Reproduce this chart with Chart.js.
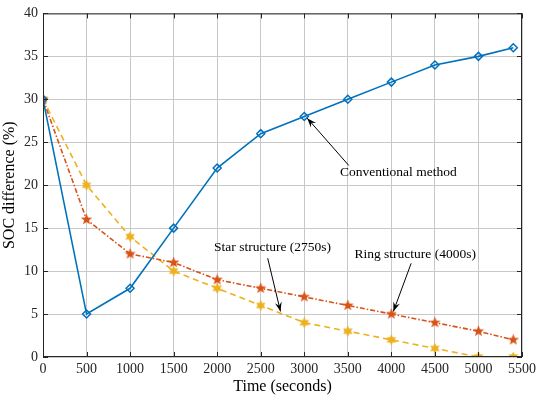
<!DOCTYPE html>
<html>
<head>
<meta charset="utf-8">
<script src="https://cdn.jsdelivr.net/npm/chart.js@4.4.0/dist/chart.umd.min.js"></script>
<style>
  html, body { margin: 0; padding: 0; background: #fff; }
  #wrap { width: 540px; height: 397px; }
</style>
</head>
<body>
<div id="wrap"><canvas id="soc"></canvas></div>
<script>
const times = [0, 500, 1000, 1500, 2000, 2500, 3000, 3500, 4000, 4500, 5000, 5400];
const conventional = [30, 5, 8, 15, 22, 26, 28, 30, 32, 34, 35, 36];
const ringStructure = [30, 16, 12, 11, 9, 8, 7, 6, 5, 4, 3, 2];
const starStructure = [30, 20, 14, 10, 8, 6, 4, 3, 2, 1, 0, 0];
const xTicks = [0, 500, 1000, 1500, 2000, 2500, 3000, 3500, 4000, 4500, 5000, 5500];
const yTicks = [0, 5, 10, 15, 20, 25, 30, 35, 40];

const FONT = '"Liberation Serif", "Times New Roman", serif';

function makeStar(points, color, size) {
    const c = document.createElement('canvas');
    c.width = size; c.height = size;
    const ctx = c.getContext('2d');
    const r = size / 2 - 0.5, ri = points === 5 ? r * 0.42 : r * 0.55;
    ctx.beginPath();
    for (let i = 0; i < points * 2; i++) {
        const a = -Math.PI / 2 + i * Math.PI / points;
        const rr = i % 2 === 0 ? r : ri;
        ctx.lineTo(size / 2 + rr * Math.cos(a), size / 2 + rr * Math.sin(a));
    }
    ctx.closePath();
    ctx.fillStyle = color;
    ctx.fill();
    return c;
}

const toPoints = (ys) => ys.map((y, i) => ({ x: times[i], y: y }));

// arrows and labels, placed in data units
const notes = [
    { text: 'Conventional method', tx: 4080, ty: 21.5, from: [3511, 22.3], to: [3034, 27.8] },
    { text: 'Star structure (2750s)', tx: 2636, ty: 12.7, from: [2580, 11.5], to: [2727, 5.3] },
    { text: 'Ring structure (4000s)', tx: 4273, ty: 11.9, from: [4227, 10.9], to: [4023, 5.3] }
];

const framePlugin = {
    id: 'frame',
    afterDatasetsDraw(chart) {
        const { ctx, chartArea: a, scales } = chart;
        ctx.save();
        ctx.strokeStyle = '#262626';
        ctx.lineWidth = 1;
        ctx.strokeRect(a.left + 0.5, a.top + 0.5, a.right - a.left - 1, a.bottom - a.top - 1);
        ctx.beginPath();
        xTicks.forEach(v => {
            const px = Math.round(scales.x.getPixelForValue(v)) + 0.5;
            ctx.moveTo(px, a.bottom); ctx.lineTo(px, a.bottom - 5);
            ctx.moveTo(px, a.top); ctx.lineTo(px, a.top + 5);
        });
        yTicks.forEach(v => {
            const py = Math.round(scales.y.getPixelForValue(v)) + 0.5;
            ctx.moveTo(a.left, py); ctx.lineTo(a.left + 5, py);
            ctx.moveTo(a.right, py); ctx.lineTo(a.right - 5, py);
        });
        ctx.stroke();

        ctx.font = '13.5px ' + FONT;
        ctx.fillStyle = '#000';
        ctx.textAlign = 'center';
        ctx.textBaseline = 'middle';
        notes.forEach(n => {
            ctx.fillText(n.text, scales.x.getPixelForValue(n.tx), scales.y.getPixelForValue(n.ty));
            const x1 = scales.x.getPixelForValue(n.from[0]), y1 = scales.y.getPixelForValue(n.from[1]);
            const x2 = scales.x.getPixelForValue(n.to[0]), y2 = scales.y.getPixelForValue(n.to[1]);
            ctx.strokeStyle = '#000';
            ctx.lineWidth = 1;
            ctx.beginPath();
            ctx.moveTo(x1, y1); ctx.lineTo(x2, y2);
            ctx.stroke();
            const ang = Math.atan2(y2 - y1, x2 - x1);
            ctx.beginPath();
            ctx.moveTo(x2, y2);
            ctx.lineTo(x2 - 10 * Math.cos(ang - 0.35), y2 - 10 * Math.sin(ang - 0.35));
            ctx.lineTo(x2 - 6 * Math.cos(ang), y2 - 6 * Math.sin(ang));
            ctx.lineTo(x2 - 10 * Math.cos(ang + 0.35), y2 - 10 * Math.sin(ang + 0.35));
            ctx.closePath();
            ctx.fill();
        });
        ctx.restore();
    }
};

new Chart(document.getElementById('soc').getContext('2d'), {
    type: 'line',
    data: {
        datasets: [
            {
                label: 'Conventional method',
                data: toPoints(conventional),
                borderColor: '#0072BD',
                borderWidth: 1.6,
                pointStyle: 'rectRot',
                pointRadius: 4,
                pointBorderWidth: 1.5,
                pointBorderColor: '#0072BD',
                pointBackgroundColor: 'rgba(255,255,255,0)',
                tension: 0
            },
            {
                label: 'Ring structure',
                data: toPoints(ringStructure),
                borderColor: '#D95319',
                borderWidth: 1.6,
                borderDash: [5, 2, 1.5, 2],
                pointStyle: makeStar(5, '#D95319', 13),
                tension: 0
            },
            {
                label: 'Star structure',
                data: toPoints(starStructure),
                borderColor: '#EDB120',
                borderWidth: 1.6,
                borderDash: [6, 4],
                pointStyle: makeStar(6, '#EDB120', 12),
                tension: 0
            }
        ]
    },
    options: {
        responsive: true,
        maintainAspectRatio: false,
        animation: false,
        layout: { padding: { top: 13, right: 13, left: 0, bottom: 0 } },
        plugins: { legend: { display: false }, tooltip: { enabled: false } },
        scales: {
            x: {
                type: 'linear',
                min: 0,
                max: 5500,
                afterBuildTicks(scale) { scale.ticks = xTicks.map(v => ({ value: v })); },
                afterFit(scale) { scale.height = 40; },
                grid: { color: '#c8c8c8', borderDash: [1, 2], drawTicks: false },
                border: { display: false },
                ticks: { color: '#262626', font: { family: FONT, size: 14 }, padding: 4, maxRotation: 0, callback: (v) => String(v) },
                title: { display: true, text: 'Time (seconds)', color: '#000', font: { family: FONT, size: 16 }, padding: { top: 0, bottom: 1 } }
            },
            y: {
                min: 0,
                max: 40,
                afterBuildTicks(scale) { scale.ticks = yTicks.map(v => ({ value: v })); },
                afterFit(scale) { scale.width = 43; },
                grid: { color: '#c8c8c8', borderDash: [1, 2], drawTicks: false },
                border: { display: false },
                ticks: { color: '#262626', font: { family: FONT, size: 14 }, padding: 5, callback: (v) => String(v) },
                title: { display: true, text: 'SOC difference (%)', color: '#000', font: { family: FONT, size: 16 }, padding: { top: 0, bottom: 0 } }
            }
        }
    },
    plugins: [framePlugin]
});
</script>
</body>
</html>
